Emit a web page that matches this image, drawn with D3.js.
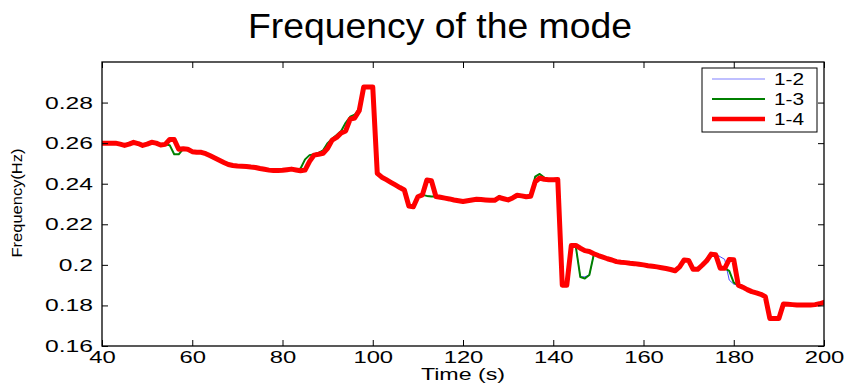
<!DOCTYPE html>
<html><head><meta charset="utf-8">
<script src="https://cdn.jsdelivr.net/npm/d3@7"></script>
<style>body{margin:0;background:#fff;} svg{display:block;font-family:"Liberation Sans",Arial,sans-serif;}</style>
</head><body>
<svg id="c" width="848" height="386"></svg>
<script>
const times = [40,41,42,43,44,45,46,47,48,49,50,51,52,53,54,55,56,57,58,59,60,61,62,63,64,65,66,67,68,69,70,71,72,73,74,75,76,77,78,79,80,81,82,83,84,85,86,87,88,89,90,91,92,93,94,95,96,97,98,99,100,101,102,103,104,105,106,107,108,109,110,111,112,113,114,115,116,117,118,119,120,121,122,123,124,125,126,127,128,129,130,131,132,133,134,135,136,137,138,139,140,141,142,143,144,145,146,147,148,149,150,151,152,153,154,155,156,157,158,159,160,161,162,163,164,165,166,167,168,169,170,171,172,173,174,175,176,177,178,179,180,181,182,183,184,185,186,187,188,189,190,191,192,193,194,195,196,197,198,199,200];

const series14 = [0.2600,0.2600,0.2600,0.2600,0.2595,0.2589,0.2595,0.2604,0.2598,0.2589,
0.2595,0.2604,0.2600,0.2591,0.2594,0.2618,0.2618,0.2570,0.2572,0.2570,
0.2558,0.2555,0.2555,0.2548,0.2538,0.2527,0.2516,0.2505,0.2495,0.2490,
0.2487,0.2486,0.2485,0.2482,0.2480,0.2475,0.2471,0.2467,0.2465,0.2465,
0.2466,0.2469,0.2472,0.2468,0.2464,0.2467,0.2510,0.2541,0.2545,0.2550,
0.2575,0.2615,0.2628,0.2650,0.2660,0.2718,0.2724,0.2760,0.2877,0.2877,
0.2877,0.2451,0.2432,0.2420,0.2407,0.2394,0.2381,0.2369,0.2290,0.2286,
0.2336,0.2345,0.2418,0.2415,0.2337,0.2333,0.2329,0.2325,0.2320,0.2316,
0.2312,0.2316,0.2320,0.2323,0.2322,0.2320,0.2318,0.2318,0.2332,0.2326,
0.2320,0.2330,0.2343,0.2340,0.2336,0.2338,0.2410,0.2428,0.2422,0.2420,
0.2420,0.2421,0.1900,0.1900,0.2095,0.2096,0.2082,0.2070,0.2066,0.2055,
0.2046,0.2038,0.2030,0.2024,0.2016,0.2013,0.2011,0.2008,0.2006,0.2003,
0.2000,0.1996,0.1993,0.1990,0.1986,0.1982,0.1977,0.1971,0.1990,0.2024,
0.2022,0.1978,0.1978,0.1998,0.2020,0.2053,0.2050,0.1983,0.1983,0.2027,
0.2025,0.1900,0.1890,0.1878,0.1868,0.1862,0.1855,0.1843,0.1736,0.1736,
0.1736,0.1807,0.1806,0.1804,0.1802,0.1802,0.1802,0.1802,0.1804,0.1808,
0.1815];

const series13 = [0.2600,0.2600,0.2600,0.2600,0.2595,0.2589,0.2595,0.2604,0.2598,0.2589,
0.2595,0.2604,0.2600,0.2591,0.2594,0.2590,0.2545,0.2545,0.2572,0.2570,
0.2558,0.2555,0.2555,0.2548,0.2538,0.2527,0.2516,0.2505,0.2495,0.2490,
0.2487,0.2486,0.2485,0.2482,0.2480,0.2475,0.2471,0.2467,0.2465,0.2465,
0.2466,0.2469,0.2472,0.2468,0.2475,0.2520,0.2541,0.2545,0.2552,0.2565,
0.2600,0.2622,0.2640,0.2660,0.2700,0.2730,0.2740,0.2770,0.2877,0.2877,
0.2877,0.2451,0.2430,0.2420,0.2407,0.2394,0.2381,0.2369,0.2290,0.2286,
0.2336,0.2345,0.2340,0.2337,0.2337,0.2333,0.2329,0.2325,0.2320,0.2316,
0.2312,0.2316,0.2320,0.2323,0.2322,0.2320,0.2318,0.2318,0.2340,0.2326,
0.2320,0.2330,0.2343,0.2340,0.2336,0.2338,0.2435,0.2448,0.2430,0.2420,
0.2420,0.2421,0.1900,0.1900,0.2095,0.2090,0.1940,0.1933,0.1950,0.2052,
0.2046,0.2038,0.2030,0.2024,0.2016,0.2013,0.2011,0.2008,0.2006,0.2003,
0.2000,0.1996,0.1993,0.1990,0.1986,0.1982,0.1977,0.1971,0.1990,0.2024,
0.2022,0.1978,0.1978,0.1998,0.2030,0.2056,0.2052,0.1983,0.1983,0.1970,
0.1912,0.1900,0.1890,0.1878,0.1868,0.1862,0.1855,0.1843,0.1736,0.1736,
0.1736,0.1807,0.1806,0.1804,0.1802,0.1802,0.1802,0.1802,0.1804,0.1808,
0.1815];

const series12 = [0.2600,0.2600,0.2600,0.2600,0.2595,0.2589,0.2595,0.2604,0.2598,0.2589,
0.2595,0.2604,0.2600,0.2591,0.2594,0.2618,0.2618,0.2570,0.2572,0.2570,
0.2558,0.2555,0.2555,0.2548,0.2538,0.2527,0.2516,0.2505,0.2495,0.2490,
0.2487,0.2486,0.2485,0.2482,0.2480,0.2475,0.2471,0.2467,0.2465,0.2465,
0.2466,0.2469,0.2472,0.2468,0.2475,0.2520,0.2541,0.2545,0.2552,0.2565,
0.2600,0.2622,0.2640,0.2660,0.2700,0.2730,0.2740,0.2770,0.2877,0.2877,
0.2877,0.2451,0.2430,0.2420,0.2407,0.2394,0.2381,0.2369,0.2290,0.2286,
0.2336,0.2345,0.2340,0.2337,0.2337,0.2333,0.2329,0.2325,0.2320,0.2316,
0.2312,0.2316,0.2320,0.2323,0.2322,0.2320,0.2318,0.2318,0.2340,0.2326,
0.2320,0.2330,0.2343,0.2340,0.2336,0.2338,0.2435,0.2448,0.2430,0.2420,
0.2420,0.2421,0.1900,0.1900,0.2095,0.2090,0.1941,0.1941,0.1950,0.2052,
0.2046,0.2038,0.2030,0.2024,0.2016,0.2013,0.2011,0.2008,0.2006,0.2003,
0.2000,0.1996,0.1993,0.1990,0.1986,0.1982,0.1977,0.1971,0.1990,0.2024,
0.2022,0.1978,0.1978,0.1998,0.2030,0.2056,0.2053,0.2040,0.2027,0.1925,
0.1905,0.1900,0.1890,0.1878,0.1868,0.1862,0.1855,0.1843,0.1736,0.1736,
0.1736,0.1807,0.1806,0.1804,0.1802,0.1802,0.1802,0.1802,0.1804,0.1808,
0.1815];

const seriesNames = ["1-2","1-3","1-4"];
const xTicks = [40,60,80,100,120,140,160,180,200];
const yTicks = [0.16,0.18,0.2,0.22,0.24,0.26,0.28];
const yTickLabels = ["0.16","0.18","0.2","0.22","0.24","0.26","0.28"];

const svg = d3.select("#c");
const L = 102, R = 824, T = 62, B = 346;
const x = d3.scaleLinear().domain([40,200]).range([L,R]);
const y = d3.scaleLinear().domain([0.16,0.30]).range([B,T]);

const stretch = (sel, k) => sel.each(function(){
  const w = this.getComputedTextLength();
  d3.select(this).attr("textLength", w*k).attr("lengthAdjust","spacingAndGlyphs");
});

// title
svg.append("text").attr("x",440).attr("y",38).attr("text-anchor","middle")
  .attr("font-size",35).text("Frequency of the mode")
  .attr("textLength",384).attr("lengthAdjust","spacingAndGlyphs");

// clip
svg.append("clipPath").attr("id","clip").append("rect")
  .attr("x",L).attr("y",T).attr("width",R-L).attr("height",B-T);

const line = d3.line().x((d,i)=>x(times[i])).y(d=>y(d));
const g = svg.append("g").attr("clip-path","url(#clip)");
const styles = [
  {data:series12, color:"#3333ff", w:0.9},
  {data:series13, color:"#008000", w:2},
  {data:series14, color:"#ff0000", w:5}
];
styles.forEach(s=>{
  g.append("path").datum(s.data).attr("d",line).attr("fill","none")
   .attr("stroke",s.color).attr("stroke-width",s.w)
   .attr("stroke-linejoin","round").attr("stroke-linecap","round");
});

// axes (inward ticks, mirrored box)
const ax = svg.append("g");
const tick = 6;
ax.append("g").attr("transform",`translate(0,${B})`)
  .call(d3.axisBottom(x).tickValues(xTicks).tickSize(-tick).tickPadding(5).tickFormat(d3.format("d")))
  .call(s=>s.selectAll("text").attr("font-size",17).attr("fill","#000").call(stretch,1.4));
ax.append("g").attr("transform",`translate(0,${T})`)
  .call(d3.axisTop(x).tickValues(xTicks).tickSize(-tick).tickFormat(""));
ax.append("g").attr("transform",`translate(${L},0)`)
  .call(d3.axisLeft(y).tickValues(yTicks).tickSize(-tick).tickPadding(9).tickFormat((d,i)=>yTickLabels[i]))
  .call(s=>s.selectAll("text").attr("font-size",17).attr("fill","#000").call(stretch,1.45));
ax.append("g").attr("transform",`translate(${R},0)`)
  .call(d3.axisRight(y).tickValues(yTicks).tickSize(-tick).tickFormat(""));
ax.selectAll(".tick line").attr("stroke","#000").attr("stroke-width",1);
ax.selectAll("path.domain").remove();
svg.append("rect").attr("x",L).attr("y",T).attr("width",R-L).attr("height",B-T)
  .attr("fill","none").attr("stroke","#000").attr("stroke-width",1.3);

// axis labels
svg.append("text").attr("x",463).attr("y",380).attr("text-anchor","middle")
  .attr("font-size",16).text("Time (s)").call(stretch,1.45);
svg.append("text").attr("transform","translate(22,203) rotate(-90)").attr("text-anchor","middle")
  .attr("font-size",15).text("Frequency(Hz)").attr("textLength",109).attr("lengthAdjust","spacingAndGlyphs");

// legend
const lg = svg.append("g");
lg.append("rect").attr("x",702).attr("y",68).attr("width",115).attr("height",64)
  .attr("fill","#fff").attr("stroke","#000").attr("stroke-width",1);
const rowsY = [79,99,119];
styles.forEach((s,i)=>{
  lg.append("line").attr("x1",712).attr("x2",765).attr("y1",rowsY[i]).attr("y2",rowsY[i])
    .attr("stroke", i===0 ? "#8080ff" : s.color).attr("stroke-width", i===0?1.2:(i===2?4.5:s.w));
  lg.append("text").attr("x",774).attr("y",rowsY[i]+6).attr("font-size",16)
    .text(seriesNames[i]).call(stretch,1.3);
});
</script>
</body></html>
